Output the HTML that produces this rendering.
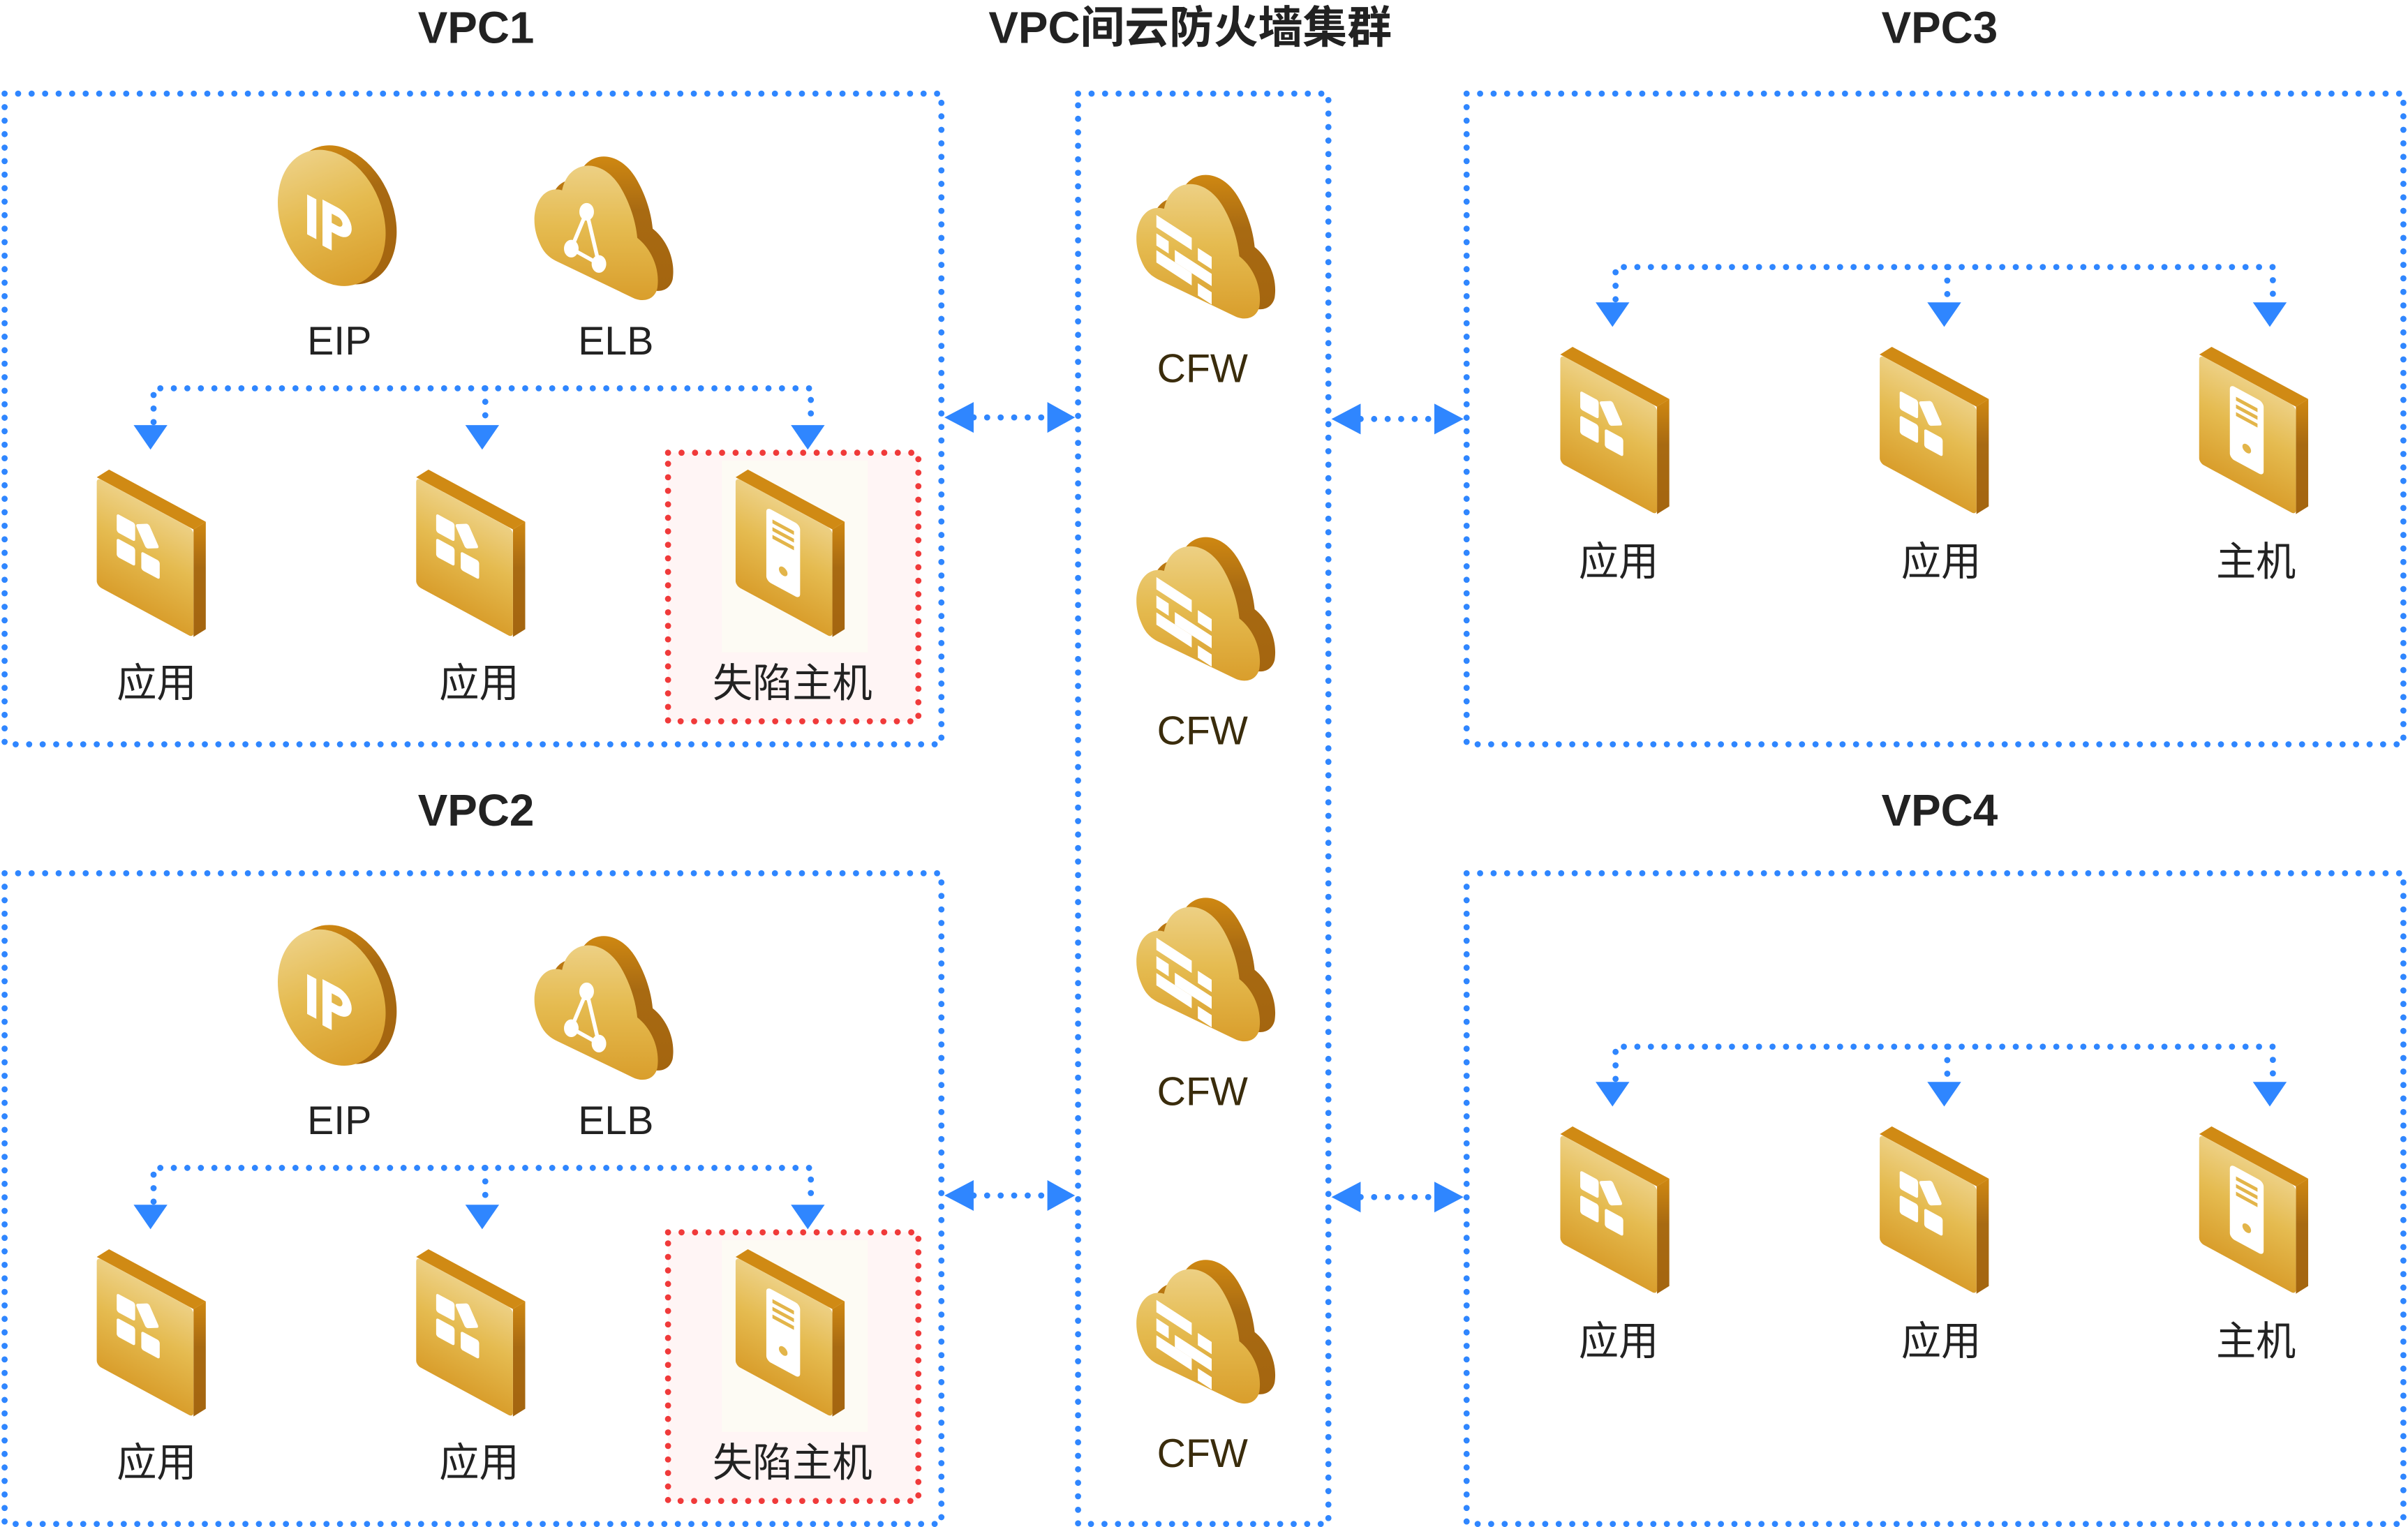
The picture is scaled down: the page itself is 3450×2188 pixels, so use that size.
<!DOCTYPE html>
<html><head><meta charset="utf-8"><style>html,body{margin:0;padding:0;background:#fff}svg{display:block}</style></head><body>
<svg width="3450" height="2188" viewBox="0 0 1568 995" preserveAspectRatio="none" xmlns="http://www.w3.org/2000/svg">
<defs>
<linearGradient id="gf" x1="0" y1="0" x2="0" y2="1"><stop offset="0" stop-color="#edd084"/><stop offset="0.45" stop-color="#e5bb50"/><stop offset="1" stop-color="#d99e2c"/></linearGradient>
<linearGradient id="gs" x1="0" y1="0" x2="0" y2="1"><stop offset="0" stop-color="#cf8812"/><stop offset="0.4" stop-color="#a86a12"/><stop offset="1" stop-color="#a4650f"/></linearGradient>
<g id="slab">
<polygon points="1,6 9,1 72,35 64,40" fill="#d08a14"/>
<polygon points="64,40 72,35 72,105 64,110" fill="url(#gs)"/>
<g transform="skewY(28.4)"><rect x="1" y="5.5" width="63" height="70.5" rx="3" fill="url(#gf)"/></g>
</g>
<g id="app"><use href="#slab"/>
<g transform="skewY(28.4)" fill="#fff">
<rect x="14" y="22" width="12" height="12" rx="1.5"/><rect x="14" y="38" width="12" height="12" rx="1.5"/><rect x="30" y="38" width="12" height="12" rx="1.5"/>
<rect x="29" y="19" width="10" height="14" rx="1.5" transform="rotate(-30 34 26)"/></g></g>
<g id="srv"><use href="#slab"/>
<g transform="skewY(28.4)"><rect x="21" y="14" width="22" height="48" rx="3" fill="#fff"/>
<rect x="25" y="20" width="14" height="2.5" fill="#e3b54a"/><rect x="25" y="25" width="14" height="2.5" fill="#e3b54a"/><rect x="25" y="30" width="14" height="2.5" fill="#e3b54a"/>
<circle cx="32" cy="50" r="2.8" fill="#e3b54a"/></g></g>
<g id="eip">
<ellipse cx="45" cy="45" rx="33" ry="47" transform="rotate(-22 45 45)" fill="url(#gs)"/>
<ellipse cx="38" cy="47" rx="33" ry="46" transform="rotate(-22 38 47)" fill="url(#gf)"/>
<g transform="skewY(28)" fill="#fff"><rect x="22" y="20" width="6" height="26"/><path d="M32,18 h10 a9,9 0 0 1 0,18 h-4 v12 h-6 z M38,24 v6 h4 a3,3 0 0 0 0,-6 z" fill-rule="evenodd"/></g>
</g>
<path id="cloudp" d="M6,55 C0,38 8,20 22,24 C26,4 48,2 60,22 C66,32 70,44 71,55 C80,62 86,75 84,88 C82,96 74,97 68,94 L18,70 C10,66 8,60 6,55 Z"/>
<g id="cloud">
<use href="#cloudp" transform="translate(10,-6)" fill="url(#gs)"/>
<use href="#cloudp" fill="url(#gf)"/>
</g>
<g id="elb"><use href="#cloud"/>
<g stroke="#fff" stroke-width="2.5" fill="#fff"><line x1="38" y1="38" x2="28" y2="62"/><line x1="38" y1="38" x2="46" y2="72"/><line x1="28" y1="62" x2="46" y2="72"/>
<ellipse cx="38" cy="38" rx="3.5" ry="4.5"/><ellipse cx="28" cy="62" rx="3.5" ry="4.5"/><ellipse cx="46" cy="72" rx="3.5" ry="4.5"/></g></g>
<g id="cfw"><use href="#cloud"/>
<g transform="skewY(33)" fill="#fff"><rect x="17" y="17" width="23" height="8"/><rect x="44" y="21" width="9" height="8"/><rect x="17" y="29" width="8" height="8"/><rect x="29" y="32" width="24" height="8"/><rect x="17" y="40" width="23" height="8"/><rect x="44" y="44" width="9" height="8"/></g></g>
<polygon id="ad" points="-11,0 11,0 0,16"/>
</defs>

<g font-family="'Liberation Sans','Noto Sans CJK SC',sans-serif" text-anchor="middle">
<g font-size="29" font-weight="bold" fill="#222">
<text x="310" y="28">VPC1</text><text x="775" y="28">VPC间云防火墙集群</text><text x="1263" y="28">VPC3</text>
<text x="310" y="538">VPC2</text><text x="1263" y="538">VPC4</text></g>

<g fill="none" stroke="#2f86ff" stroke-width="4" stroke-linecap="round" stroke-dasharray="0 8.8">
<rect x="3" y="61" width="610" height="424"/><rect x="3" y="569" width="610" height="424"/>
<rect x="702" y="61" width="163" height="932"/>
<rect x="955" y="61" width="610" height="424"/><rect x="955" y="569" width="610" height="424"/>
</g>

<g id="left">
<rect x="435" y="295" width="163" height="175" fill="#fff5f5" stroke="#f03a3a" stroke-width="4" stroke-linecap="round" stroke-dasharray="0 8.8"/>
<rect x="470" y="300" width="95" height="125" fill="#fdfbf4"/>
<use href="#eip" transform="translate(178,95)"/>
<use href="#elb" transform="translate(344,100)"/>
<g font-size="26" fill="#222"><text x="221" y="231">EIP</text><text x="401" y="231">ELB</text>
<text x="102" y="454">应用</text><text x="312" y="454">应用</text><text x="516" y="454">失陷主机</text></g>
<g fill="none" stroke="#2f86ff" stroke-width="4" stroke-linecap="round" stroke-dasharray="0 8.8">
<path d="M100,275 V253 H528 V275"/><path d="M316,253 V275"/></g>
<g fill="#2f86ff"><use href="#ad" transform="translate(98,277)"/><use href="#ad" transform="translate(314,277)"/><use href="#ad" transform="translate(526,277)"/></g>
<use href="#app" transform="translate(62,305)"/><use href="#app" transform="translate(270,305)"/><use href="#srv" transform="translate(478,305)"/>
</g>
<use href="#left" transform="translate(0,508)"/>

<g id="right">
<g fill="none" stroke="#2f86ff" stroke-width="4" stroke-linecap="round" stroke-dasharray="0 8.8">
<path d="M1052,195 V174 H1480 V195"/><path d="M1268,174 V195"/></g>
<g fill="#2f86ff"><use href="#ad" transform="translate(1050,197)"/><use href="#ad" transform="translate(1266,197)"/><use href="#ad" transform="translate(1478,197)"/></g>
<use href="#app" transform="translate(1015,225)"/><use href="#app" transform="translate(1223,225)"/><use href="#srv" transform="translate(1431,225)"/>
<g font-size="26" fill="#222"><text x="1054" y="375">应用</text><text x="1264" y="375">应用</text><text x="1469" y="375">主机</text></g>
</g>
<use href="#right" transform="translate(0,508)"/>

<g font-size="26" fill="#3a2c0c">
<use href="#cfw" transform="translate(736,112)"/><text x="783" y="249">CFW</text>
<use href="#cfw" transform="translate(736,348)"/><text x="783" y="485">CFW</text>
<use href="#cfw" transform="translate(736,583)"/><text x="783" y="720">CFW</text>
<use href="#cfw" transform="translate(736,819)"/><text x="783" y="956">CFW</text>
</g>

<g id="da">
<path d="M634,272 H682" fill="none" stroke="#2f86ff" stroke-width="4" stroke-linecap="round" stroke-dasharray="0 8.8"/>
<polygon points="615,272 634,262 634,282" fill="#2f86ff"/><polygon points="700,272 682,262 682,282" fill="#2f86ff"/>
<path d="M886,273 H934" fill="none" stroke="#2f86ff" stroke-width="4" stroke-linecap="round" stroke-dasharray="0 8.8"/>
<polygon points="867,273 886,263 886,283" fill="#2f86ff"/><polygon points="953,273 934,263 934,283" fill="#2f86ff"/>
</g>
<use href="#da" transform="translate(0,507)"/>
</g>
</svg>
</body></html>
